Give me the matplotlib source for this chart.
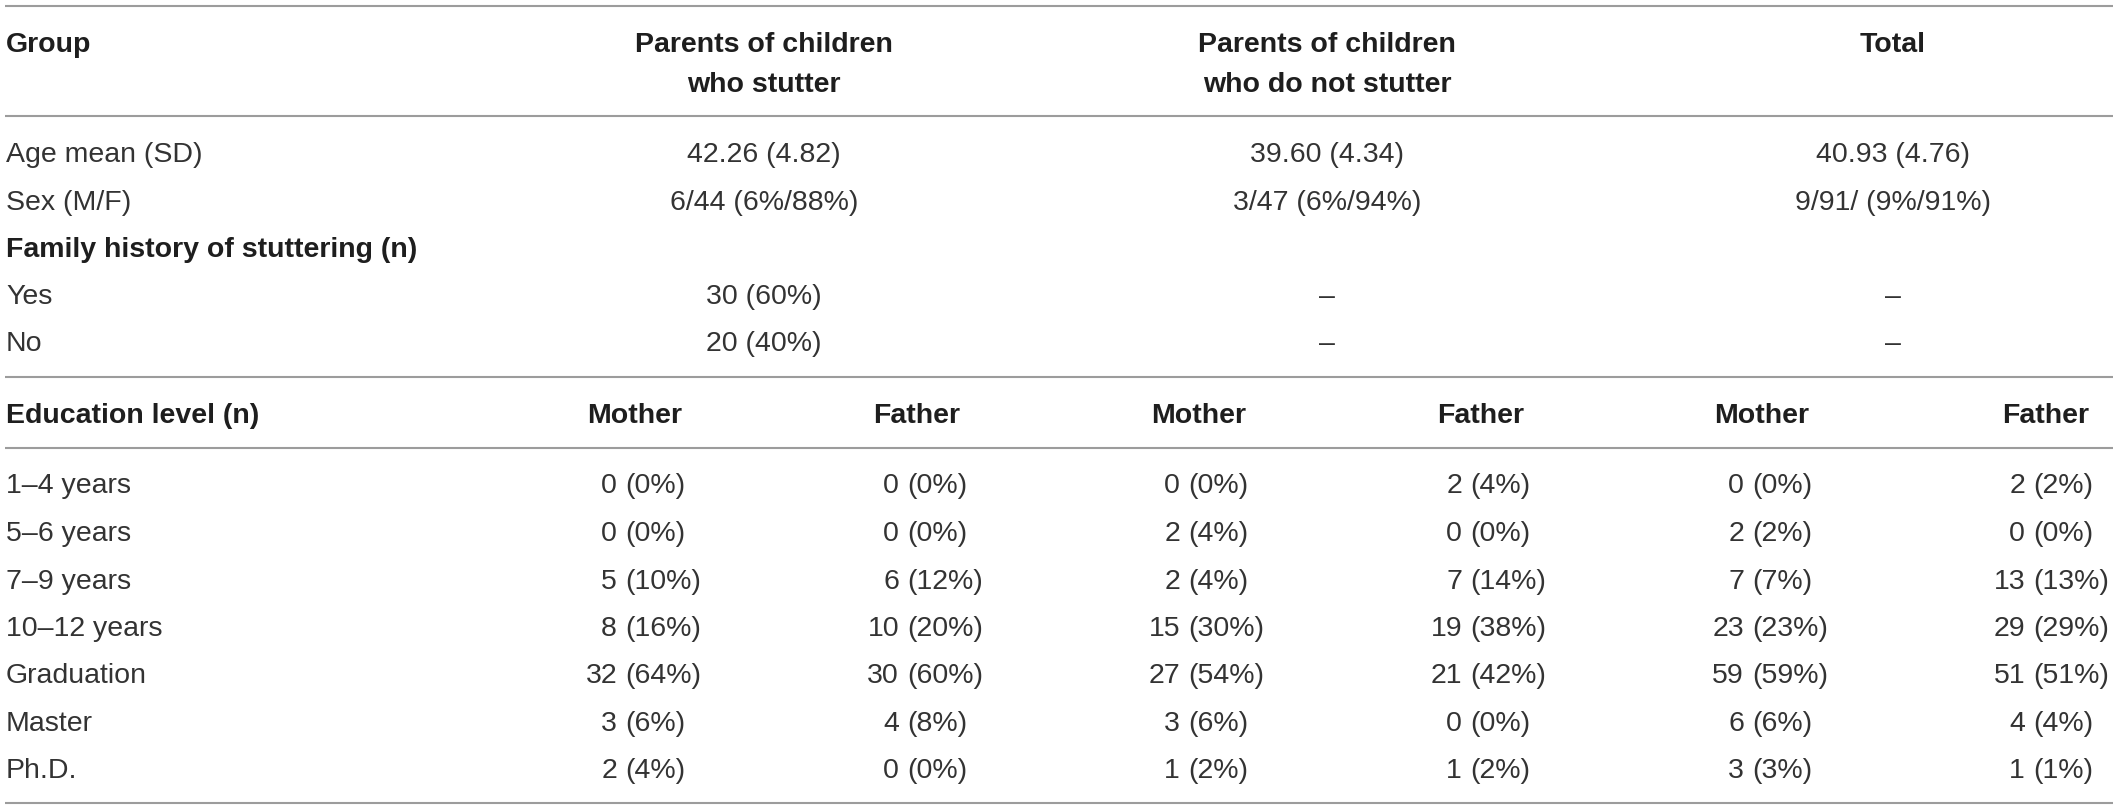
import matplotlib
matplotlib.use("Agg")
import matplotlib.pyplot as plt
from matplotlib import font_manager

# ---------------- data ----------------
group_headers = [["Parents of children", "who stutter"],
                 ["Parents of children", "who do not stutter"],
                 ["Total"]]
age_mean_sd = ["42.26 (4.82)", "39.60 (4.34)", "40.93 (4.76)"]
sex_mf = ["6/44 (6%/88%)", "3/47 (6%/94%)", "9/91/ (9%/91%)"]
family_yes = ["30 (60%)", "–", "–"]
family_no = ["20 (40%)", "–", "–"]

edu_levels = ["1–4 years", "5–6 years", "7–9 years", "10–12 years",
              "Graduation", "Master", "Ph.D."]
sub_headers = ["Mother", "Father", "Mother", "Father", "Mother", "Father"]
# counts and percentages per sub-column
cws_mother_n = [0, 0, 5, 8, 32, 3, 2]
cws_mother_p = [0, 0, 10, 16, 64, 6, 4]
cws_father_n = [0, 0, 6, 10, 30, 4, 0]
cws_father_p = [0, 0, 12, 20, 60, 8, 0]
cwns_mother_n = [0, 2, 2, 15, 27, 3, 1]
cwns_mother_p = [0, 4, 4, 30, 54, 6, 2]
cwns_father_n = [2, 0, 7, 19, 21, 0, 1]
cwns_father_p = [4, 0, 14, 38, 42, 0, 2]
tot_mother_n = [0, 2, 7, 23, 59, 6, 3]
tot_mother_p = [0, 2, 7, 23, 59, 6, 3]
tot_father_n = [2, 0, 13, 29, 51, 4, 1]
tot_father_p = [2, 0, 13, 29, 51, 4, 1]

# ---------------- style ----------------
W, H = 2118, 809
avail = {f.name for f in font_manager.fontManager.ttflist}
family = ["Liberation Sans", "DejaVu Sans"] if "Liberation Sans" in avail else ["DejaVu Sans"]
plt.rcParams["font.family"] = family

FS = 20.5
TXT = "#333333"
BOLD = "#1e1e1e"
LINE = "#9c9c9c"
em_px = FS * 100 / 72.0
cap_off = 0.716 * em_px / 2.0  # baseline offset from cap-centre

fig = plt.figure(figsize=(W / 100, H / 100), dpi=100)
ax = fig.add_axes([0, 0, 1, 1])
ax.set_xlim(0, W)
ax.set_ylim(H, 0)
ax.axis("off")


def put(x, yc, s, ha="left", bold=False):
    ax.text(x, yc + cap_off, s, ha=ha, va="baseline", fontsize=FS,
            fontweight="bold" if bold else "normal",
            color=BOLD if bold else TXT)


# horizontal rules
rule_y = [6, 115.5, 376.5, 448, 803]
ax.hlines(rule_y, 5, 2113, colors=LINE, linewidth=1.5)

left_x = 6
group_x = [764, 1327, 1893]
sub_x = [635, 917, 1199, 1481, 1762, 2046]
paren_x = [625, 907, 1188, 1470, 1752, 2033]

# header
put(left_x, 42, "Group", bold=True)
for gx, lines in zip(group_x, group_headers):
    for yc, s in zip([42, 82], lines):
        put(gx, yc, s, ha="center", bold=True)

# top section rows
top_rows_y = [152, 199.5, 247, 293.5, 340.5]
put(left_x, top_rows_y[0], "Age mean (SD)")
put(left_x, top_rows_y[1], "Sex (M/F)")
put(left_x, top_rows_y[2], "Family history of stuttering (n)", bold=True)
put(left_x, top_rows_y[3], "Yes")
put(left_x, top_rows_y[4], "No")
for vals, yc in zip([age_mean_sd, sex_mf, None, family_yes, family_no], top_rows_y):
    if vals is None:
        continue
    for gx, s in zip(group_x, vals):
        put(gx, yc, s, ha="center")

# education section
put(left_x, 413, "Education level (n)", bold=True)
for sx, s in zip(sub_x, sub_headers):
    put(sx, 413, s, ha="center", bold=True)

edu_rows_y = [483, 531, 578.5, 626, 673, 721, 768]
cols_n = [cws_mother_n, cws_father_n, cwns_mother_n, cwns_father_n, tot_mother_n, tot_father_n]
cols_p = [cws_mother_p, cws_father_p, cwns_mother_p, cwns_father_p, tot_mother_p, tot_father_p]
space_px = 0.278 * em_px
for lvl, yc in zip(edu_levels, edu_rows_y):
    put(left_x, yc, lvl)
for px, ns, ps in zip(paren_x, cols_n, cols_p):
    for yc, n, p in zip(edu_rows_y, ns, ps):
        put(px - space_px, yc, f"{n}", ha="right")
        put(px, yc, f"({p}%)", ha="left")

fig.savefig("out.png", dpi=100, facecolor="white")
